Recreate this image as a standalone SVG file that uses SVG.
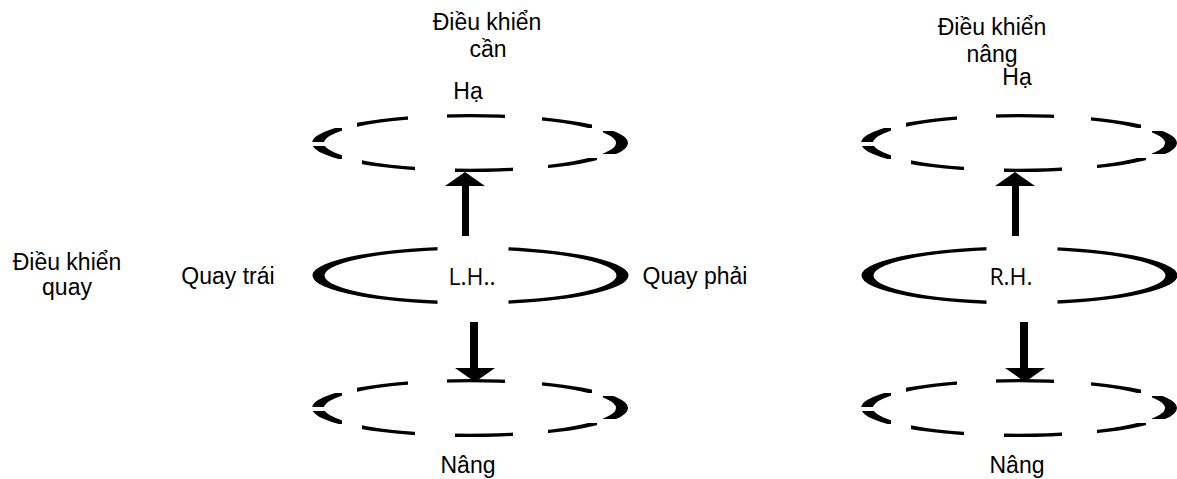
<svg xmlns="http://www.w3.org/2000/svg" xmlns:xlink="http://www.w3.org/1999/xlink" width="1177" height="479" viewBox="0 0 1177 479">
<style>
  .lbl { font-family: "Liberation Sans", Arial, sans-serif; font-size: 23px; fill: #000; text-anchor: middle; }
  .hand { font-family: "Open Sans", "Liberation Sans", sans-serif; font-size: 23px; fill: #000; text-anchor: middle; }
  .ring { fill: #000; fill-rule: evenodd; }
  .arrow { fill: #000; }
</style>
<defs>
  <path id="crescent" class="ring" d="M-158,0 A158,29 0 1,0 158,0 A158,29 0 1,0 -158,0 Z M-146,0 A146,25.8 0 1,1 146,0 A146,25.8 0 1,1 -146,0 Z"/>
  <mask id="dashMask" maskUnits="userSpaceOnUse" x="-175" y="-45" width="350" height="90">
    <g fill="#fff">
      <rect x="-113" y="-40" width="51" height="25"/>
      <rect x="-23" y="-40" width="58" height="25"/>
      <rect x="72" y="-40" width="50" height="25"/>
      <rect x="-108" y="15" width="53" height="25"/>
      <rect x="-15" y="15" width="58" height="25"/>
      <rect x="78" y="15" width="49" height="25"/>
      <rect x="133" y="-12" width="35" height="23"/>
      <rect x="-168" y="-15" width="40" height="14"/>
      <rect x="-168" y="3" width="40" height="13"/>
    </g>
  </mask>
  <mask id="gapMask" maskUnits="userSpaceOnUse" x="-175" y="-45" width="350" height="90">
    <rect x="-175" y="-45" width="350" height="90" fill="#fff"/>
    <rect x="-33" y="-45" width="71" height="90" fill="#000"/>
  </mask>
  <g id="dashedRing"><use xlink:href="#crescent" mask="url(#dashMask)"/></g>
  <g id="solidRing"><use xlink:href="#crescent" mask="url(#gapMask)"/></g>
</defs>

<g id="left-title">
  <text class="lbl" x="487" y="30">Điều khiển</text>
  <text class="lbl" x="488" y="57">cần</text>
</g>
<g id="right-title">
  <text class="lbl" x="992" y="35">Điều khiển</text>
  <text class="lbl" x="992" y="62">nâng</text>
</g>
<g id="swing-title">
  <text class="lbl" x="67" y="270">Điều khiển</text>
  <text class="lbl" x="67" y="295">quay</text>
</g>

<g id="left-top">
  <use xlink:href="#dashedRing" transform="translate(470,143)"/>
  <text class="lbl" x="468" y="99">Hạ</text>
</g>
<g id="left-mid">
  <use xlink:href="#solidRing" transform="translate(470.5,275.5)"/>
  <text class="hand" x="472" y="285">L.H..</text>
  <text class="lbl" x="228" y="284">Quay trái</text>
  <text class="lbl" x="695" y="284">Quay phải</text>
</g>
<g id="left-bot">
  <use xlink:href="#dashedRing" transform="translate(470,408)"/>
  <text class="lbl" x="468" y="473">Nâng</text>
</g>

<g id="right-top">
  <use xlink:href="#dashedRing" transform="translate(1019,143)"/>
  <text class="lbl" x="1017" y="85">Hạ</text>
</g>
<g id="right-mid">
  <use xlink:href="#solidRing" transform="translate(1019.5,275.5)"/>
  <text class="hand" x="1011" y="285">R.H.</text>
</g>
<g id="right-bot">
  <use xlink:href="#dashedRing" transform="translate(1019,408)"/>
  <text class="lbl" x="1017" y="473">Nâng</text>
</g>

<g id="connectors">
  <polygon class="arrow" points="465,172 485,186 469,186 469,236 462,236 462,186 445,186"/>
  <polygon class="arrow" points="475,382 495,368 478,368 478,322 470,322 470,368 455,368"/>
  <polygon class="arrow" points="1015,172 1035,186 1019,186 1019,236 1012,236 1012,186 995,186"/>
  <polygon class="arrow" points="1025,382 1045,368 1028,368 1028,322 1020,322 1020,368 1005,368"/>
</g>
</svg>
